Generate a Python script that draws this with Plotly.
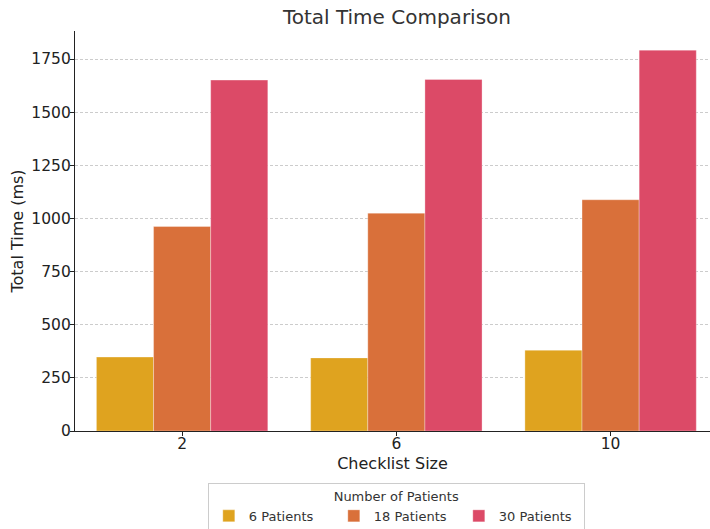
import plotly.graph_objects as go

categories = ["2", "6", "10"]
series_names = ["6 Patients", "18 Patients", "30 Patients"]
values_6 = [348, 344, 380]
values_18 = [962, 1025, 1088]
values_30 = [1651, 1654, 1792]
colors = ["#DFA31F", "#D9703A", "#DC4A67"]

fig = go.Figure()
for name, vals, col in zip(series_names, [values_6, values_18, values_30], colors):
    fig.add_trace(go.Bar(
        x=categories, y=vals, name=name,
        marker=dict(color=col, line=dict(color="rgba(255,255,255,0.4)", width=0.8)),
    ))

font_family = "DejaVu Sans"
fig.update_layout(
    width=710, height=529,
    margin=dict(l=75, r=0, t=31, b=98, autoexpand=False),
    paper_bgcolor="white", plot_bgcolor="white",
    barmode="group", bargap=0.2, bargroupgap=0,
    font=dict(family=font_family, color="#333333", size=14),
    title=dict(text="Total Time Comparison", x=0.507, xanchor="center",
               y=0.981, yanchor="top", xref="paper", yref="container",
               font=dict(size=20, color="#333333")),
    xaxis=dict(type="category", range=[-0.5, 2.464], automargin=False,
               showline=True, linecolor="#222222", linewidth=1.2,
               ticks="outside", ticklen=4, tickcolor="#222222",
               ticklabelstandoff=-6,
               tickfont=dict(size=15.5, color="#222222"),
               title=dict(text="Checklist Size", font=dict(size=16, color="#222222"), standoff=6),
               showgrid=False),
    yaxis=dict(range=[0, 1882], tickvals=[0, 250, 500, 750, 1000, 1250, 1500, 1750],
               automargin=False,
               showline=True, linecolor="#222222", linewidth=1.2,
               ticks="outside", ticklen=4, tickcolor="#222222",
               ticklabelstandoff=-4,
               tickfont=dict(size=15.5, color="#222222"),
               title=dict(text="Total Time (ms)", font=dict(size=16, color="#222222"), standoff=3),
               showgrid=True, gridcolor="#cccccc", griddash="3px,2px", gridwidth=1,
               zeroline=False),
    legend=dict(orientation="h", x=0.506, xanchor="center", y=-0.13, yanchor="top",
                bordercolor="#cccccc", borderwidth=1, bgcolor="white",
                font=dict(size=13, color="#333333"),
                title=dict(text="Number of Patients", side="top center",
                           font=dict(size=13, color="#333333")),
                itemwidth=30, entrywidth=80, entrywidthmode="pixels"),
)

fig.write_html("out.html", config={"displayModeBar": False},
               post_script="document.body.style.margin='0';document.body.style.overflow='hidden';")
